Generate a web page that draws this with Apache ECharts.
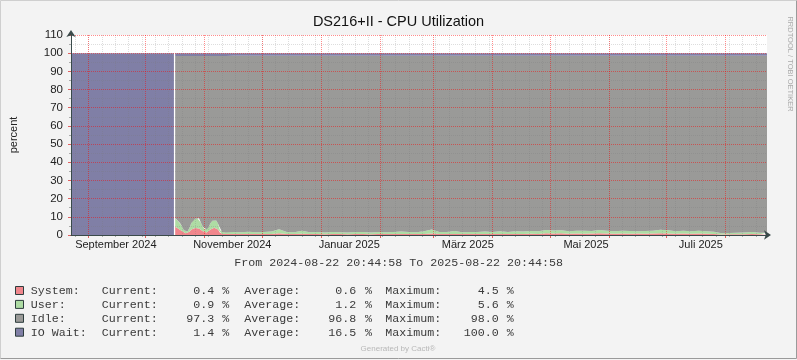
<!DOCTYPE html>
<html><head><meta charset="utf-8">
<script src="https://cdn.jsdelivr.net/npm/echarts@6/dist/echarts.min.js"></script>
<style>html,body{margin:0;padding:0;background:#F3F3F3}#c{width:797px;height:360px}</style>
</head><body><div id="c"></div>
<script>
const chartTitle = 'DS216+II - CPU Utilization';
const startTime = '2024-08-22 20:44:58';
const endTime = '2025-08-22 20:44:58';
const periodText = 'From 2024-08-22 20:44:58 To 2025-08-22 20:44:58';

const times = [
  '2024-08-22 20:45','2024-10-15 20:00','2024-10-16 04:00','2024-10-16 12:00',
  '2024-10-17','2024-10-18','2024-10-19','2024-10-20','2024-10-21','2024-10-22','2024-10-23',
  '2024-10-24','2024-10-25','2024-10-26','2024-10-27','2024-10-28','2024-10-29','2024-10-30','2024-10-31',
  '2024-11-01','2024-11-02','2024-11-03','2024-11-04','2024-11-05','2024-11-06','2024-11-07','2024-11-08',
  '2024-11-09','2024-11-10','2024-11-11','2024-11-12',
  '2024-11-16','2024-11-20','2024-11-24','2024-11-28','2024-12-02','2024-12-06','2024-12-10','2024-12-14',
  '2024-12-18','2024-12-22','2024-12-26','2024-12-30',
  '2025-01-03','2025-01-07','2025-01-11','2025-01-15','2025-01-19','2025-01-23','2025-01-27','2025-01-31',
  '2025-02-04','2025-02-08','2025-02-12','2025-02-16','2025-02-20','2025-02-24','2025-02-28',
  '2025-03-04','2025-03-08','2025-03-12','2025-03-16','2025-03-20','2025-03-24','2025-03-28',
  '2025-04-01','2025-04-05','2025-04-09','2025-04-13','2025-04-17','2025-04-21','2025-04-25','2025-04-29',
  '2025-05-03','2025-05-07','2025-05-11','2025-05-15','2025-05-19','2025-05-23','2025-05-27','2025-05-31',
  '2025-06-04','2025-06-08','2025-06-12','2025-06-16','2025-06-20','2025-06-24','2025-06-28',
  '2025-07-02','2025-07-06','2025-07-10','2025-07-14','2025-07-18','2025-07-22','2025-07-26','2025-07-30',
  '2025-08-03','2025-08-07','2025-08-11','2025-08-15','2025-08-19','2025-08-22 20:44'
];

const systemVals = [
  0,0,null,4.5,
  4.3,3.6,3.0,2.2,1.2,0.9,0.9,1.8,3.0,3.8,3.8,3.7,3.6,2.8,2.0,
  1.5,1.4,2.0,3.0,3.6,4.0,3.8,3.0,1.2,0.6,0.5,0.5,
  0.5,0.5,0.6,0.5,0.5,0.6,0.9,0.5,0.5,0.7,0.5,0.5,
  0.4,0.5,0.5,0.4,0.5,0.5,0.4,0.5,
  0.5,0.5,0.6,0.5,0.5,0.6,0.8,
  0.5,0.5,0.6,0.5,0.5,0.5,0.6,
  0.5,0.6,0.5,0.6,0.6,0.7,0.6,0.9,
  0.8,1.0,0.7,0.8,0.7,0.8,0.9,0.8,
  0.7,0.8,0.7,0.8,0.7,0.8,0.9,
  0.8,0.7,0.8,0.7,0.8,0.7,0.6,0.3,
  0.4,0.4,0.4,0.5,0.4,0.4
];
const userVals = [
  0,0,null,4.7,
  4.5,4.0,3.6,2.8,1.4,0.9,1.0,2.2,3.6,4.4,5.2,5.6,5.6,4.0,2.6,
  1.7,1.6,2.2,3.4,4.2,4.5,4.2,3.2,1.4,1.0,1.0,0.9,
  1.1,1.0,1.2,1.0,1.1,1.3,2.2,1.1,1.0,1.6,1.0,1.1,
  1.0,1.2,1.0,1.0,1.1,1.2,1.0,1.1,
  1.0,1.2,1.3,1.1,1.0,1.4,2.2,
  1.2,1.1,1.6,1.0,1.1,1.2,1.3,
  1.1,1.4,1.2,1.5,1.3,1.5,1.4,1.8,
  1.7,1.6,1.4,1.5,1.6,1.4,1.9,1.5,
  1.4,1.6,1.5,1.3,1.5,1.6,2.0,
  1.8,1.4,1.5,1.3,1.5,1.4,1.2,0.6,
  0.7,0.9,1.0,1.1,0.9,0.9
];
const idleVals = [
  0,0,null,89.2,
  89.6,90.8,91.8,93.4,95.8,96.6,96.5,94.4,91.8,90.2,89.4,89.1,89.2,91.6,93.8,
  95.2,95.4,94.2,92.0,90.6,89.9,90.4,92.2,95.8,96.8,96.9,97.0,
  97.0,97.1,96.8,97.1,97.0,96.7,95.5,97.0,97.1,96.3,97.1,97.0,
  97.2,96.9,97.1,97.2,97.0,96.9,97.2,97.0,
  97.1,96.9,96.7,97.0,97.1,96.6,95.6,
  96.9,97.0,96.4,97.1,97.0,96.9,96.7,
  97.0,96.6,96.9,96.5,96.7,96.4,96.6,95.9,
  96.1,96.0,96.5,96.3,96.3,96.4,95.8,96.3,
  96.5,96.2,96.4,96.5,96.4,96.2,95.7,
  96.0,96.5,96.3,96.6,96.3,96.5,96.8,97.7,
  97.5,97.3,97.2,97.0,97.3,97.3
];
const ioWaitVals = [
  100,100,null,1.6,
  1.6,1.6,1.6,1.6,1.6,1.6,1.6,1.6,1.6,1.6,1.6,1.6,1.6,1.6,1.6,
  1.6,1.6,1.6,1.6,1.6,1.6,1.6,1.6,1.6,1.6,1.6,1.6,
  1.4,1.4,1.4,1.4,1.4,1.4,1.4,1.4,1.4,1.4,1.4,1.4,
  1.4,1.4,1.4,1.4,1.4,1.4,1.4,1.4,
  1.4,1.4,1.4,1.4,1.4,1.4,1.4,
  1.4,1.4,1.4,1.4,1.4,1.4,1.4,
  1.4,1.4,1.4,1.4,1.4,1.4,1.4,1.4,
  1.4,1.4,1.4,1.4,1.4,1.4,1.4,1.4,
  1.4,1.4,1.4,1.4,1.4,1.4,1.4,
  1.4,1.4,1.4,1.4,1.4,1.4,1.4,1.4,
  1.4,1.4,1.4,1.4,1.4,1.4
];

const monthLines = ['2024-09-01','2024-10-01','2024-11-01','2024-12-01','2025-01-01','2025-02-01',
  '2025-03-01','2025-04-01','2025-05-01','2025-06-01','2025-07-01','2025-08-01'];
const firstWeekLine = '2024-08-25';
const labelPositions = ['2024-09-15 09:00','2024-11-15 11:00','2025-01-15 19:00','2025-03-18 23:00','2025-05-19 23:00','2025-07-19 04:00'];
const labelTexts = ['September 2024','November 2024','Januar 2025','März 2025','Mai 2025','Juli 2025'];

const seriesNames = ['System','User','Idle','IO Wait'];
const legendNames = ['System:','User:','Idle:','IO Wait:'];
const currentVals = ['0.4','0.9','97.3','1.4'];
const averageVals = ['0.6','1.2','96.8','16.5'];
const maximumVals = ['4.5','5.6','98.0','100.0'];
const colors = ['#F0868C','#AEDCA4','#9A9A98','#807FA6'];

function ts(s){
  const m = s.match(/(\d+)-(\d+)-(\d+)(?: (\d+):(\d+)(?::(\d+))?)?/);
  return new Date(+m[1], +m[2]-1, +m[3], +(m[4]||0), +(m[5]||0), +(m[6]||0)).getTime();
}
const tMin = ts(startTime), tMax = ts(endTime);
const monthTs = monthLines.map(ts);
const weekTs = [];
for (let t = ts(firstWeekLine); t < tMax; t += 7*86400000) weekTs.push(t);
const labelTs = labelPositions.map(ts);

const allVals = [systemVals, userVals, idleVals, ioWaitVals];
const series = allVals.map((vals, k) => ({
  name: seriesNames[k], type:'line', stack:'cpu', xAxisIndex:0, yAxisIndex:0,
  data: times.map((t,i) => [ts(t), vals[i]]),
  showSymbol:false, symbol:'none', connectNulls:false,
  lineStyle:{width:0, opacity:0},
  areaStyle:{color:colors[k], opacity:1},
  z:2, animation:false
}));

const mono = 'Liberation Mono, Courier New, monospace';
const sans = 'Liberation Sans, Arial, sans-serif';
const graphics = [];
graphics.push({type:'text', x:398.5, y:22, style:{text:chartTitle, font:'14.5px '+sans, fill:'#111', textAlign:'center', textVerticalAlign:'middle'}});
graphics.push({type:'text', x:234.3, y:263, style:{text:periodText, font:'11.67px '+mono, fill:'#3A3A3A', textAlign:'left', textVerticalAlign:'middle'}});
legendNames.forEach((nm, i) => {
  const y = 291 + i*13.9;
  graphics.push({type:'rect', shape:{x:15.5, y:y-4.5, width:8, height:8}, style:{fill:colors[i], stroke:'#2D3D3D', lineWidth:1}});
  const f = '11.67px '+mono;
  const items = [
    [nm, 30.7, 'left'], ['Current:', 101.7, 'left'], [currentVals[i], 214.3, 'right'], ['%', 222.3, 'left'],
    ['Average:', 244.3, 'left'], [averageVals[i], 356.2, 'right'], ['%', 365, 'left'],
    ['Maximum:', 385.3, 'left'], [maximumVals[i], 498.7, 'right'], ['%', 506.7, 'left']
  ];
  items.forEach(([t, x, al]) => graphics.push({type:'text', x:x, y:y, style:{text:t, font:f, fill:'#3A3A3A', textAlign:al, textVerticalAlign:'middle'}}));
});
graphics.push({type:'text', x:398, y:349, style:{text:'Generated by Cacti®', font:'8px '+sans, fill:'#B8B8B8', textAlign:'center', textVerticalAlign:'middle'}});
graphics.push({type:'text', x:790, y:64, rotation:-Math.PI/2, style:{text:'RRDTOOL / TOBI OETIKER', font:'7.5px '+sans, fill:'#ABABAB', textAlign:'center', textVerticalAlign:'middle'}});
graphics.push({type:'polyline', shape:{points:[[0.5,358.5],[0.5,0.5],[796.5,0.5]]}, style:{stroke:'#CFCFCF', lineWidth:1, fill:null}});
graphics.push({type:'polyline', shape:{points:[[0.5,358.5],[796.5,358.5],[796.5,0.5]]}, style:{stroke:'#9A9A9A', lineWidth:1, fill:null}});

const axisColor = '#3A4A4A';
const majorGrid = 'rgba(255,0,0,0.45)';
const minorGrid = 'rgba(120,120,120,0.25)';
const chart = echarts.init(document.getElementById('c'), null, {renderer:'canvas'});
chart.setOption({
  animation:false,
  backgroundColor:'#F3F3F3',
  grid:{left:67, right:30, top:35, height:200, show:true, backgroundColor:'#FFFFFF', borderWidth:0},
  xAxis:[{
    type:'time', min:tMin, max:tMax, zlevel:1, z:6, position:'bottom',
    axisLine:{show:true, lineStyle:{color:axisColor, width:1}, symbol:['none','arrow'], symbolSize:[7,7], symbolOffset:[0,4]},
    axisTick:{show:false}, axisLabel:{show:false}, splitLine:{show:false}
  },{
    type:'value', min:tMin, max:tMax, zlevel:1, z:5, position:'bottom', scale:true,
    axisLine:{show:false},
    axisTick:{show:true, customValues:monthTs, length:3, lineStyle:{color:'#E06060'}},
    axisLabel:{customValues:labelTs, color:'#222', fontSize:11, fontFamily:sans, margin:4, hideOverlap:false,
      formatter:(v) => { let best=0, bd=Infinity; labelTs.forEach((t,i)=>{const d=Math.abs(t-v); if(d<bd){bd=d;best=i;}}); return labelTexts[best]; }},
    splitLine:{show:true, lineStyle:{color:majorGrid, type:[1,1], width:1}}
  },{
    type:'value', min:tMin, max:tMax, zlevel:1, z:4, position:'bottom', scale:true,
    axisLine:{show:false},
    axisTick:{show:true, customValues:weekTs, length:2, lineStyle:{color:'#AAA'}},
    axisLabel:{show:false},
    splitLine:{show:true, lineStyle:{color:minorGrid, type:[1,1], width:1}}
  }],
  yAxis:{
    type:'value', min:0, max:110, interval:10, zlevel:1, z:5,
    axisLine:{show:true, lineStyle:{color:axisColor, width:1}, symbol:['none','arrow'], symbolSize:[7,7], symbolOffset:[0,5]},
    axisTick:{show:true, length:3, lineStyle:{color:'#E06060'}},
    minorTick:{show:true, splitNumber:2, length:2, lineStyle:{color:'#AAA'}},
    axisLabel:{color:'#222', fontSize:11.5, fontFamily:sans, margin:8},
    splitLine:{show:true, lineStyle:{color:majorGrid, type:[1,1], width:1}},
    minorSplitLine:{show:true, lineStyle:{color:minorGrid, type:[1,1], width:1}},
    name:'percent', nameLocation:'middle', nameGap:52, nameRotate:90,
    nameTextStyle:{fontSize:11, color:'#222', fontFamily:sans}
  },
  series: series,
  graphic: graphics
});
</script></body></html>
